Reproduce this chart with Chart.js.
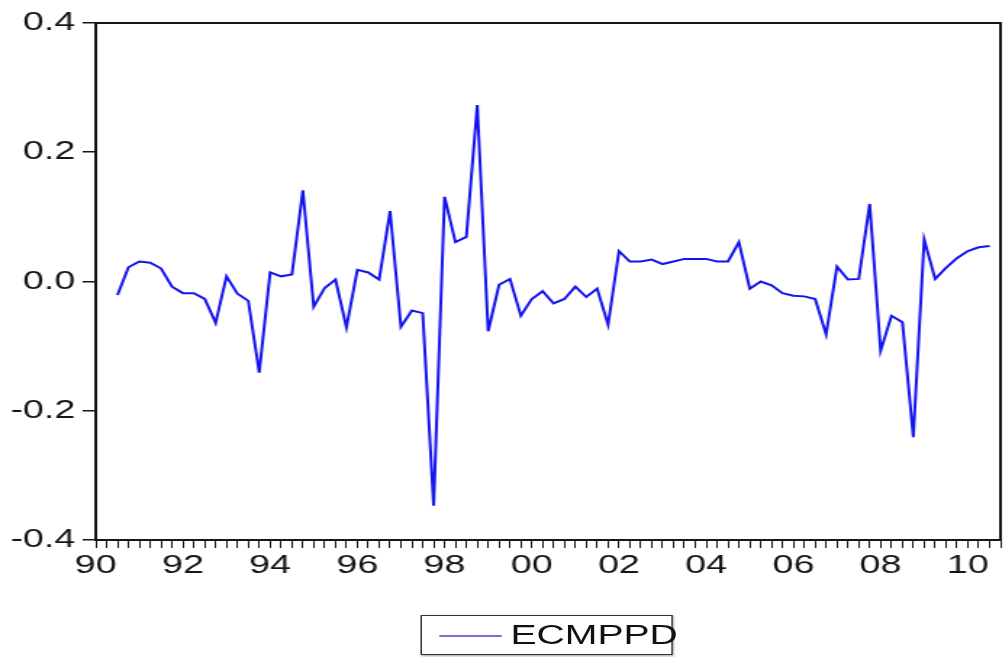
<!DOCTYPE html>
<html>
<head>
<meta charset="utf-8">
<script src="https://cdn.jsdelivr.net/npm/chart.js@4.4.0/dist/chart.umd.min.js"></script>
<style>
  html, body { margin: 0; padding: 0; background: #fff; overflow: hidden; }
  /* the reference picture is stretched sideways, so the whole chart is drawn narrow and widened */
  #wrap { position: relative; width: 692px; height: 657px; transform: scaleX(1.45); transform-origin: 0 0; }
  #chart { display: block; }
  #legend {
    position: absolute; left: 290px; top: 615px; width: 174px; height: 40px;
    border: 1px solid #333; box-sizing: border-box; box-shadow: 1px 1px 2px #999;
    font-family: 'Liberation Sans', Arial, sans-serif; font-size: 27px; color: #111; white-space: nowrap;
  }
  #legend .swatch { position: absolute; left: 12px; top: 19px; width: 43px; height: 2px; background: #7272d6; }
  #legend .name { position: absolute; left: 61px; top: 4px; }
</style>
</head>
<body>
<div id="wrap">
  <canvas id="chart" width="692" height="657"></canvas>
  <div id="legend"><span class="swatch"></span><span class="name">ECMPPD</span></div>
</div>
<script>
// ECMPPD, quarterly, first observation 1990Q3
const seriesName = 'ECMPPD';
const firstObs = 1990.5;
const ecmppd = [
  -0.021, 0.022, 0.031, 0.029, 0.020, -0.008, -0.018, -0.018, -0.027, -0.064,
  0.008, -0.019, -0.030, -0.141, 0.014, 0.008, 0.011, 0.141, -0.039, -0.010,
  0.003, -0.071, 0.018, 0.014, 0.003, 0.109, -0.070, -0.045, -0.049, -0.347,
  0.131, 0.061, 0.069, 0.273, -0.077, -0.005, 0.004, -0.053, -0.027, -0.015,
  -0.034, -0.027, -0.008, -0.024, -0.011, -0.067, 0.047, 0.031, 0.031, 0.034,
  0.027, 0.031, 0.035, 0.035, 0.035, 0.031, 0.031, 0.061, -0.011, 0.000,
  -0.006, -0.018, -0.022, -0.023, -0.027, -0.082, 0.023, 0.003, 0.004, 0.120,
  -0.107, -0.053, -0.063, -0.241, 0.065, 0.004, 0.021, 0.036, 0.047, 0.053,
  0.055
];
const xMin = 1990, xMax = 2010.75;
const yMin = -0.4, yMax = 0.4, yStep = 0.2;

const FONT = { family: "'Liberation Sans', Arial, sans-serif", size: 26 };
const INK = '#151515';

const points = ecmppd.map((v, i) => ({ x: firstObs + i * 0.25, y: v }));

// box round the plot area (top and right edges)
const frame = {
  id: 'frame',
  afterDraw(chart) {
    const { ctx, chartArea: a } = chart;
    ctx.save();
    ctx.strokeStyle = INK;
    ctx.lineWidth = 2;
    ctx.strokeRect(a.left, a.top, a.right - a.left, a.bottom - a.top);
    ctx.restore();
  }
};

new Chart(document.getElementById('chart'), {
  type: 'line',
  data: {
    datasets: [{
      label: seriesName,
      data: points,
      borderColor: '#1414ee',
      borderWidth: 2,
      pointRadius: 0,
      tension: 0,
      fill: false,
    }],
  },
  options: {
    responsive: false,
    animation: false,
    layout: { padding: { top: 23, right: 2, bottom: 0, left: 0 } },
    plugins: { legend: { display: false }, tooltip: { enabled: false } },
    scales: {
      x: {
        type: 'linear',
        min: xMin,
        max: xMax,
        afterFit: s => { s.height = 117; },
        border: { display: true, color: INK, width: 2 },
        grid: { drawOnChartArea: false, drawTicks: true, tickLength: 8, color: INK, lineWidth: 1 },
        ticks: {
          stepSize: 0.25,
          autoSkip: false,
          maxTicksLimit: 200,
          maxRotation: 0,
          padding: 2,
          color: INK,
          font: FONT,
          callback: v => {
            const y = Math.round(v);
            if (Math.abs(v - y) > 1e-6 || y % 2 !== 0) return '';
            return String(y % 100).padStart(2, '0');
          },
        },
      },
      y: {
        min: yMin,
        max: yMax,
        afterFit: s => { s.width = 66; },
        border: { display: true, color: INK, width: 2 },
        grid: { drawOnChartArea: false, drawTicks: true, tickLength: 9, color: INK, lineWidth: 1.5 },
        ticks: {
          stepSize: yStep,
          padding: 5,
          color: INK,
          font: FONT,
          callback: v => (Math.abs(v) < 1e-9 ? '0.0' : v.toFixed(1)),
        },
      },
    },
  },
  plugins: [frame],
});
</script>
</body>
</html>
